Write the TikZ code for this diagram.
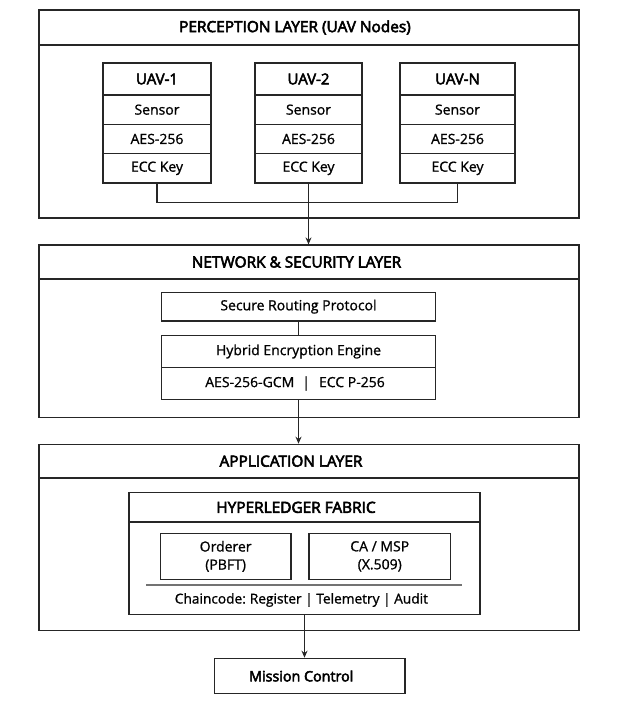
\documentclass[tikz,border=0pt]{standalone}
\usepackage{fontspec}
\setmainfont{Open Sans}
\usetikzlibrary{arrows.meta}
\tikzset{
  heavier/.style={execute at begin node={\special{pdf:literal 2 Tr #1 w}}, execute at end node={\special{pdf:literal 0 Tr}}},
  box/.style={draw=black!85, line width=1.2pt, rectangle, inner sep=0pt, font=\fontsize{14}{18}\selectfont, align=center, heavier=0.15},
  ttl/.style={box, font=\fontsize{15.4}{18}\selectfont, heavier=0.55},
  hdr/.style={box, font=\fontsize{15}{17}\selectfont, heavier=0.5},
  link/.style={draw=black!85, line width=1.2pt},
  arr/.style={link, -{Stealth[length=7pt,width=6pt]}},
}
\newcommand{\bx}[6]{% style, name, x1, y1, x2, y2, text follows
  \node[#1, minimum width={#5-#3}, minimum height={#6-#4}] (#2) at ({(#3+#5)/2},{(#4+#6)/2})}
\newcommand{\sh}[1]{\hspace*{#1}}
\begin{document}
\begin{tikzpicture}[x=1pt,y=-1pt]
\useasboundingbox (0,0) rectangle (624,706);
% ---------------- Perception layer
\bx{box}{P}{39}{10}{579}{218} {};
\bx{ttl}{Pt}{39}{10}{579}{45} {\sh{-28pt}PERCEPTION LAYER (UAV Nodes)};
% UAV-1
\bx{hdr}{a1}{103}{63}{211}{95} {UAV-1};
\bx{box}{a2}{103}{95}{211}{124.3} {Sensor};
\bx{box}{a3}{103}{124.3}{211}{153.6} {AES-256};
\bx{box}{a4}{103}{153.6}{211}{183} {ECC Key};
% UAV-2
\bx{hdr}{b1}{255}{63}{362}{95} {UAV-2};
\bx{box}{b2}{255}{95}{362}{124.3} {Sensor};
\bx{box}{b3}{255}{124.3}{362}{153.6} {AES-256};
\bx{box}{b4}{255}{153.6}{362}{183} {ECC Key};
% UAV-N
\bx{hdr}{c1}{400}{63}{515}{95} {UAV-N};
\bx{box}{c2}{400}{95}{515}{124.3} {Sensor};
\bx{box}{c3}{400}{124.3}{515}{153.6} {AES-256};
\bx{box}{c4}{400}{153.6}{515}{183} {ECC Key};
\coordinate (j1) at (157,202.7);
\draw[link] (a4.south) -- (j1) -| (c4.south);
% ---------------- Network layer
\bx{box}{N}{39}{245}{579}{417.7} {};
\bx{ttl}{Nt}{39}{245}{579}{279} {\sh{-25pt}NETWORK \& SECURITY LAYER};
\bx{box}{srp}{161.5}{292.3}{435.5}{321} {Secure Routing Protocol};
\bx{box}{hy1}{161.5}{335.7}{435.5}{367.3} {Hybrid Encryption Engine};
\bx{box}{hy2}{161.5}{367.3}{435.5}{399.7} {\sh{-7pt}AES-256-GCM\hspace{8pt}|\hspace{9pt}ECC P-256};
\draw[arr] (b4.south) -- (b4.south |- Nt.north);
\draw[link] (srp.south) -- (hy1.north);
% ---------------- Application layer
\bx{box}{A}{39}{444.3}{579}{630.7} {};
\bx{ttl}{At}{39}{444.3}{579}{478} {\sh{-36pt}APPLICATION LAYER};
\bx{box}{H}{129}{492.7}{480}{614.3} {};
\bx{ttl}{Ht}{129}{492.7}{480}{522} {\sh{-17pt}HYPERLEDGER FABRIC};
\bx{box}{ord}{160.3}{533.5}{291}{579.2} {Orderer\\(PBFT)};
\bx{box}{ca}{309}{533.5}{450.5}{579.2} {CA / MSP\\(X.509)};
\coordinate (g1) at (146.4,585);
\coordinate (g2) at (461.8,585);
\draw[draw=black!55, line width=1.2pt] (g1) -- (g2);
\node[font=\fontsize{13.7}{18}\selectfont, inner sep=0pt, heavier=0.15] (cc) at (301.4,600) {Chaincode:\hspace{4pt}Register | Telemetry | Audit};
\draw[arr] (hy2.south) -- (hy2.south |- At.north);
\bx{hdr}{mc}{214.5}{658.3}{405}{693.7} {\fontsize{14.3}{17}\selectfont\sh{-17pt}Mission Control};
\draw[arr] (H.south) -- (H.south |- mc.north);
\end{tikzpicture}
\end{document}
